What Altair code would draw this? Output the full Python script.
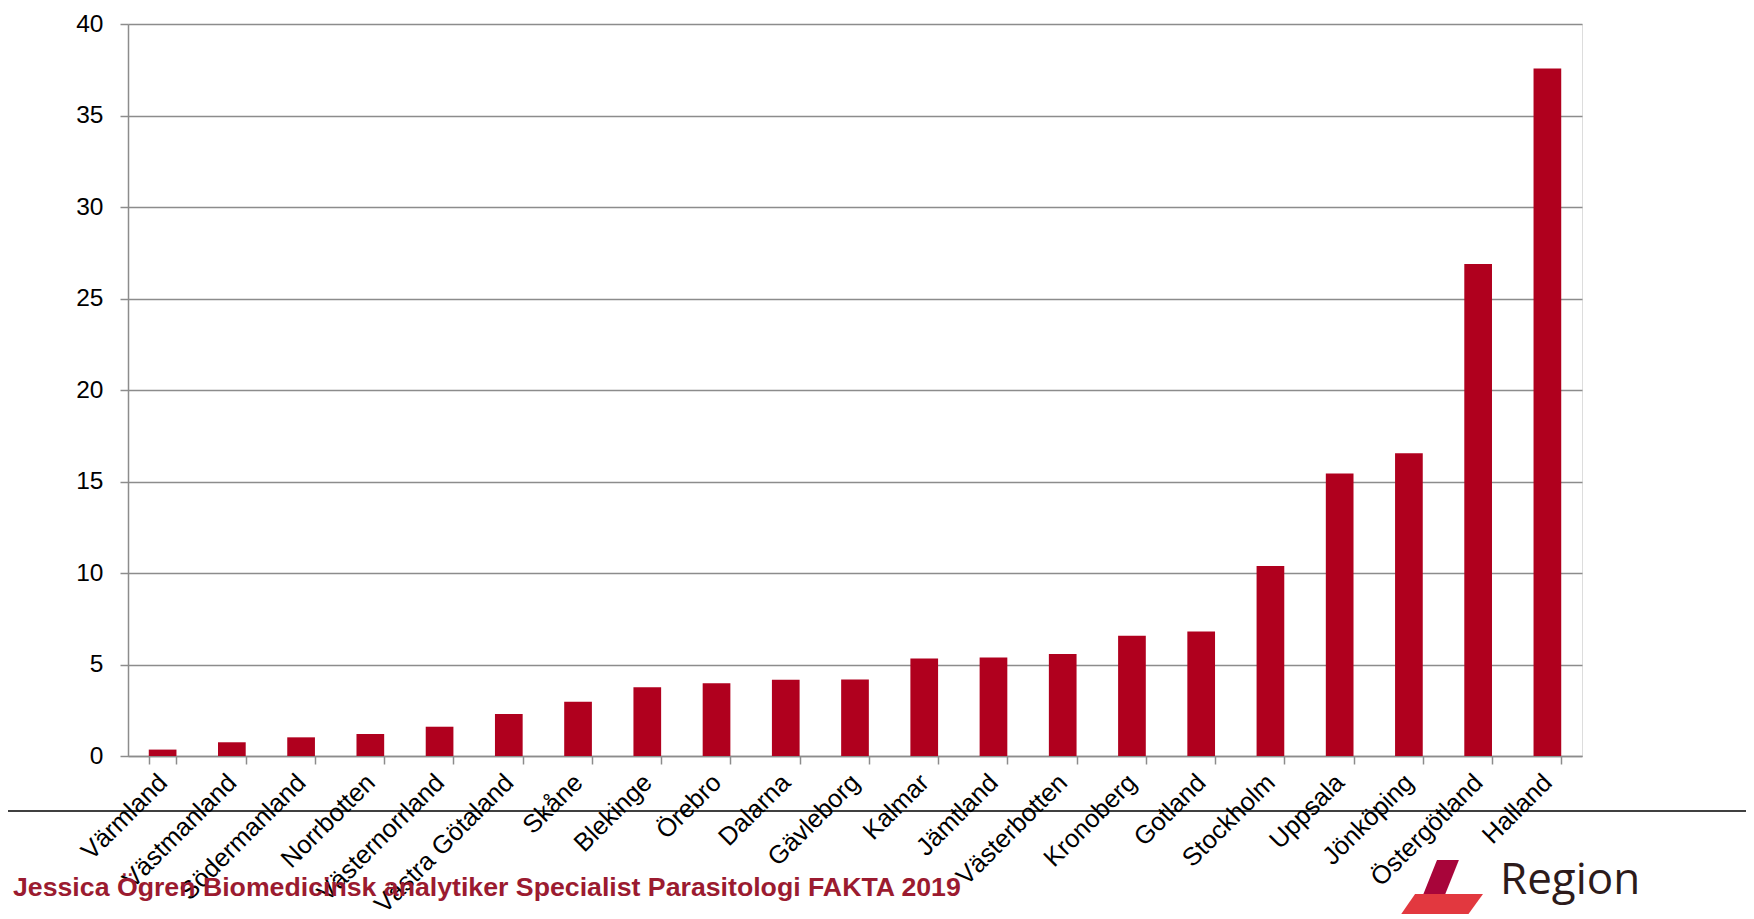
import altair as alt
import pandas as pd

regions = ["Värmland", "Västmanland", "Södermanland", "Norrbotten", "Västernorrland",
           "Västra Götaland", "Skåne", "Blekinge", "Örebro", "Dalarna", "Gävleborg",
           "Kalmar", "Jämtland", "Västerbotten", "Kronoberg", "Gotland", "Stockholm",
           "Uppsala", "Jönköping", "Östergötland", "Halland"]
values = [0.35, 0.75, 1.02, 1.2, 1.6, 2.29, 2.96, 3.76, 3.98, 4.16, 4.18,
          5.33, 5.38, 5.57, 6.57, 6.81, 10.38, 15.44, 16.55, 26.88, 37.57]
y_ticks = [0, 5, 10, 15, 20, 25, 30, 35, 40]
footer_text = ["Jessica Ögren Biomedicinsk analytiker Specialist Parasitologi FAKTA 2019"]
logo_text = ["Region"]

df = pd.DataFrame({"region": regions, "value": values})

FONT = "Liberation Sans"
GRID = "#8c8c8c"

bars = alt.Chart(df).mark_bar(color="#b0001e").encode(
    x=alt.X("region:N", sort=regions,
            scale=alt.Scale(paddingInner=0.6, paddingOuter=0.3),
            axis=alt.Axis(title=None, labelAngle=-45, labelAlign="right",
                          labelBaseline="middle", labelPadding=14, labelFontSize=25.5,
                          labelFont=FONT, labelColor="black", labelOverlap=False,
                          labelLimit=0,
                          tickBand="extent", tickSize=8, tickColor=GRID, tickWidth=1.5,
                          domainColor=GRID, domainWidth=1.5, grid=False)),
    y=alt.Y("value:Q", scale=alt.Scale(domain=[0, 40], nice=False),
            axis=alt.Axis(title=None, values=y_ticks, labelFontSize=24.5, labelFont=FONT,
                          labelColor="black", labelPadding=17, tickSize=8,
                          tickColor=GRID, tickWidth=1.5, domainColor=GRID,
                          domainWidth=1.5, grid=True, gridColor=GRID, gridWidth=1.5)),
)

line = alt.Chart(pd.DataFrame({"a": [0]})).mark_rule(color="black", strokeWidth=1.5).encode(
    x=alt.value(-125), x2=alt.value(1640), y=alt.value(787)
)

footer = alt.Chart(pd.DataFrame({"t": footer_text})).mark_text(
    font=FONT, fontSize=26.7, fontWeight="bold", color="#9b1b30",
    align="left", baseline="alphabetic"
).encode(x=alt.value(-115), y=alt.value(872), text="t:N")

region_txt = alt.Chart(pd.DataFrame({"t": logo_text})).mark_text(
    font="Open Sans", fontSize=44, color="#2d1b1b", align="left", baseline="alphabetic"
).encode(x=alt.value(1372), y=alt.value(870), text="t:N")

cross_v = alt.Chart(pd.DataFrame({"a": [0]})).mark_point(
    shape="M 0.4 -1 L 1.13 -1 L 0.33 1 L -0.4 1 Z", size=3600,
    filled=True, color="#a8053a", opacity=1, strokeWidth=0
).encode(x=alt.value(1297), y=alt.value(866))

cross_h = alt.Chart(pd.DataFrame({"a": [0]})).mark_point(
    shape="M -0.58 -0.28 L 1 -0.28 L 0.58 0.3 L -0.98 0.3 Z", size=7396,
    filled=True, color="#e2383f", opacity=1, strokeWidth=0
).encode(x=alt.value(1312), y=alt.value(882))

chart = alt.layer(bars, line, footer, region_txt, cross_v, cross_h).properties(
    width=1454, height=732,
    autosize=alt.AutoSizeParams(type="none"),
    padding={"left": 120, "top": 16, "right": 164, "bottom": 158},
    background="white",
).configure_view(stroke=None).configure(font=FONT)

chart.save("out.html", embed_options={"renderer": "svg", "actions": False})
